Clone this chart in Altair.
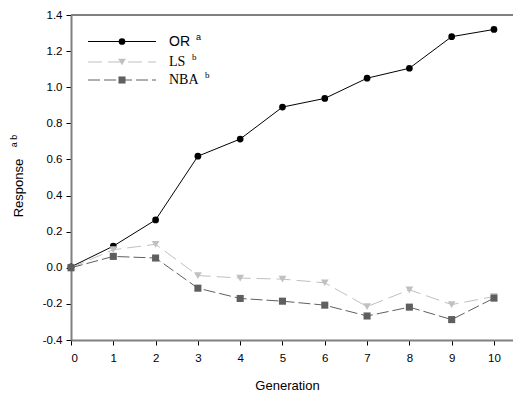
import altair as alt
import pandas as pd

generation = list(range(11))
or_values = [0.005, 0.12, 0.265, 0.618, 0.713, 0.89, 0.938, 1.05, 1.105, 1.28, 1.32]
ls_values = [0.0, 0.10, 0.13, -0.043, -0.057, -0.063, -0.083, -0.215, -0.122, -0.204, -0.159]
nba_values = [0.0, 0.063, 0.054, -0.113, -0.17, -0.185, -0.207, -0.267, -0.218, -0.287, -0.168]
x_ticks = list(range(11))
y_ticks = [-0.4, -0.2, 0.0, 0.2, 0.4, 0.6, 0.8, 1.0, 1.2, 1.4]

FONT = "Liberation Sans"
SERIF = "Liberation Serif"
W, H = 442, 325

df_or = pd.DataFrame({"gen": generation, "val": or_values})
df_ls = pd.DataFrame({"gen": generation, "val": ls_values})
df_nba = pd.DataFrame({"gen": generation, "val": nba_values})

xs = alt.Scale(domain=[0, 10.45], nice=False, zero=False)
ys = alt.Scale(domain=[-0.4, 1.4], nice=False, zero=False)

label_expr = "datum.value < 0 ? '-' + format(-datum.value, '.1f') : format(datum.value, '.1f')"

x_enc = alt.X("gen:Q", scale=xs, axis=alt.Axis(
    values=x_ticks, title="Generation", grid=False, format="d", labelOverlap=False,
    labelFont=FONT, labelFontSize=11.5, labelColor="#000", labelPadding=7,
    tickSize=5, tickColor="#000", domainColor="#808080", domainWidth=2,
    titleFont=FONT, titleFontSize=13, titleFontWeight="normal", titleColor="#000",
    titleX=216, titleY=45, titleBaseline="middle", titleAnchor="middle"))
y_enc = alt.Y("val:Q", scale=ys, axis=alt.Axis(
    values=y_ticks, title=None, grid=False, labelExpr=label_expr, labelOverlap=False,
    labelFont=FONT, labelFontSize=11.5, labelColor="#000", labelPadding=4,
    tickSize=5, tickColor="#000", domainColor="#808080", domainWidth=2))

def series(df, color, shape, size, dash=None):
    line_kwargs = dict(color=color, strokeWidth=1)
    if dash:
        line_kwargs["strokeDash"] = dash
    line = alt.Chart(df).mark_line(**line_kwargs).encode(x=x_enc, y=y_enc)
    pts = alt.Chart(df).mark_point(shape=shape, size=size, filled=True, color=color, opacity=1).encode(x=x_enc, y=y_enc)
    return line + pts

c_or = series(df_or, "#000000", "circle", 45)
c_ls = series(df_ls, "#c0c0c0", "triangle-down", 60, [14, 6])
c_nba = series(df_nba, "#5f5f5f", "square", 50, [12, 4])

top = alt.Chart(pd.DataFrame({"val": [1.4]})).mark_rule(color="#808080", strokeWidth=2).encode(
    y=y_enc, x=alt.value(0), x2=alt.value(W))

# custom legend (pixel positions)
leg_names = ["OR", "LS", "NBA"]
leg_colors = ["#000000", "#c0c0c0", "#5f5f5f"]
leg_shapes = ["circle", "triangle-down", "square"]
leg_sizes = [45, 60, 50]
leg_dash = [None, [14, 6], [12, 4]]
leg_fonts = [FONT, SERIF, SERIF]
leg_y = [26.5, 47, 65]
leg_sup = ["a", "b", "b"]
leg_sup_x = [125, 121, 134]

def px(field):
    return dict(scale=None, axis=None)

legend_layers = []
for i in range(3):
    d = pd.DataFrame({"px": [17], "px2": [85], "py": [leg_y[i]]})
    lk = dict(color=leg_colors[i], strokeWidth=1)
    if leg_dash[i]:
        lk["strokeDash"] = leg_dash[i]
    legend_layers.append(alt.Chart(d).mark_rule(**lk).encode(
        x=alt.X("px:Q", scale=None, axis=None), x2="px2:Q", y=alt.Y("py:Q", scale=None, axis=None)))
    dp = pd.DataFrame({"px": [51], "py": [leg_y[i]]})
    legend_layers.append(alt.Chart(dp).mark_point(shape=leg_shapes[i], size=leg_sizes[i], filled=True,
                                                  color=leg_colors[i], opacity=1).encode(
        x=alt.X("px:Q", scale=None, axis=None), y=alt.Y("py:Q", scale=None, axis=None)))
    dt = pd.DataFrame({"px": [98], "py": [leg_y[i]], "t": [leg_names[i]]})
    legend_layers.append(alt.Chart(dt).mark_text(font=leg_fonts[i], fontSize=14, align="left",
                                                 baseline="middle", color="#000000").encode(
        x=alt.X("px:Q", scale=None, axis=None), y=alt.Y("py:Q", scale=None, axis=None), text="t:N"))
    ds = pd.DataFrame({"px": [leg_sup_x[i]], "py": [leg_y[i] - 5], "t": [leg_sup[i]]})
    legend_layers.append(alt.Chart(ds).mark_text(font=leg_fonts[i], fontSize=9, align="left",
                                                 baseline="middle", color="#000000").encode(
        x=alt.X("px:Q", scale=None, axis=None), y=alt.Y("py:Q", scale=None, axis=None), text="t:N"))

# y axis title with superscript
yt = pd.DataFrame({"px": [-52], "py": [173], "t": ["Response"]})
ytitle = alt.Chart(yt).mark_text(font=FONT, fontSize=13, angle=270, align="center",
                                 baseline="middle", color="#000000").encode(
    x=alt.X("px:Q", scale=None, axis=None), y=alt.Y("py:Q", scale=None, axis=None), text="t:N")
ysup = pd.DataFrame({"px": [-57], "py": [126], "t": ["a b"]})
ytsup = alt.Chart(ysup).mark_text(font=FONT, fontSize=9, angle=270, align="center",
                                  baseline="middle", color="#000000").encode(
    x=alt.X("px:Q", scale=None, axis=None), y=alt.Y("py:Q", scale=None, axis=None), text="t:N")

chart = alt.layer(c_or, c_ls, c_nba, top, ytitle, ytsup, *legend_layers).properties(
    width=W, height=H,
    autosize=alt.AutoSizeParams(type="none"),
    padding={"left": 71, "top": 15, "right": 0, "bottom": 54},
).configure_view(stroke=None).configure(background="white")

chart.save("out.html", embed_options={"renderer": "svg", "actions": False})
